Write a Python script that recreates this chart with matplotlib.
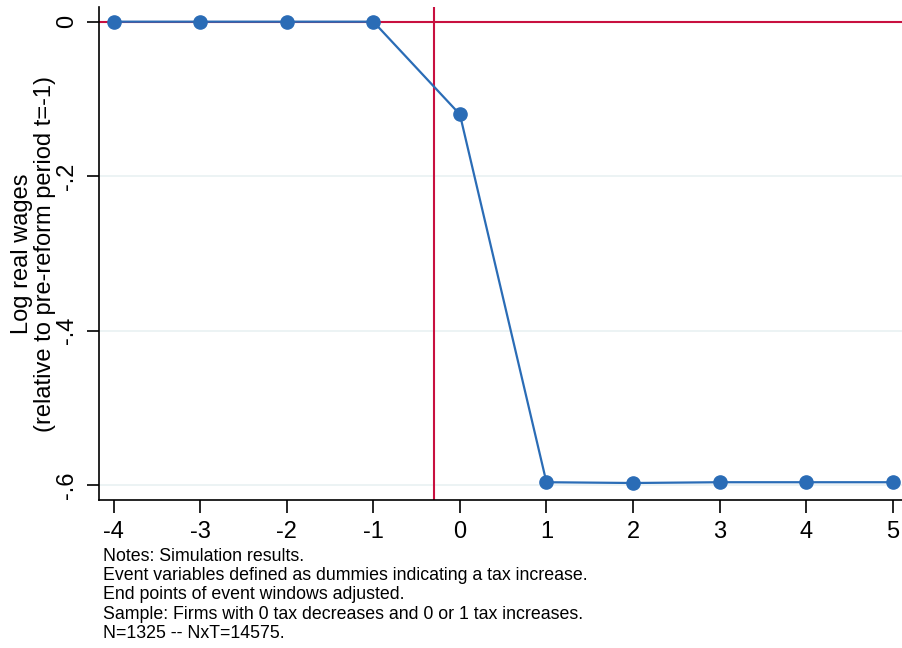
import numpy as np
import matplotlib.pyplot as plt

plt.rcParams['font.family'] = ['Liberation Sans', 'DejaVu Sans']
plt.rcParams['axes.unicode_minus'] = False  # plain hyphen like Stata

# event time and estimated coefficients
event_time = [-4, -3, -2, -1, 0, 1, 2, 3, 4, 5]
coef = [0.0, 0.0, 0.0, 0.0, -0.120, -0.596, -0.597, -0.596, -0.596, -0.596]
y_ticks = [0, -0.2, -0.4, -0.6]
y_tick_labels = ['0', '-.2', '-.4', '-.6']
reform_line = -0.3

notes = ["Notes: Simulation results.",
         "Event variables defined as dummies indicating a tax increase.",
         "End points of event windows adjusted.",
         "Sample: Firms with 0 tax decreases and 0 or 1 tax increases.",
         "N=1325 -- NxT=14575."]

fig = plt.figure(figsize=(9.03, 6.48), dpi=100)
ax = fig.add_axes([99/903, 148/648, 804/903, 493/648])

for yt in y_ticks[1:]:
    ax.axhline(yt, color='#eaf2f3', linewidth=1.3, zorder=0)
ax.axhline(0, color='#c8103f', linewidth=1.5, zorder=1)
ax.axvline(reform_line, color='#c8103f', linewidth=1.5, zorder=1)

ax.plot(event_time, coef, color='#2a6cb6', linewidth=1.6, marker='o',
        markersize=9.5, zorder=3)

ax.set_xlim(-4.17, 5.12)
ax.set_ylim(-0.619, 0.019)
ax.set_xticks(event_time)
ax.set_yticks(y_ticks)
ax.set_yticklabels(y_tick_labels, rotation=90, va='center')
ax.tick_params(axis='both', labelsize=17, length=9, width=1.2, pad=6)
for s in ['top', 'right']:
    ax.spines[s].set_visible(False)
for s in ['left', 'bottom']:
    ax.spines[s].set_linewidth(1.2)

ax.set_ylabel("Log real wages\n(relative to pre-reform period t=-1)",
              fontsize=17, linespacing=1.05, labelpad=0)

fig.text(103/903, 1 - 548/648, "\n".join(notes), fontsize=12.8,
         va='top', ha='left', linespacing=1.17)

fig.savefig('out.png', dpi=100)
